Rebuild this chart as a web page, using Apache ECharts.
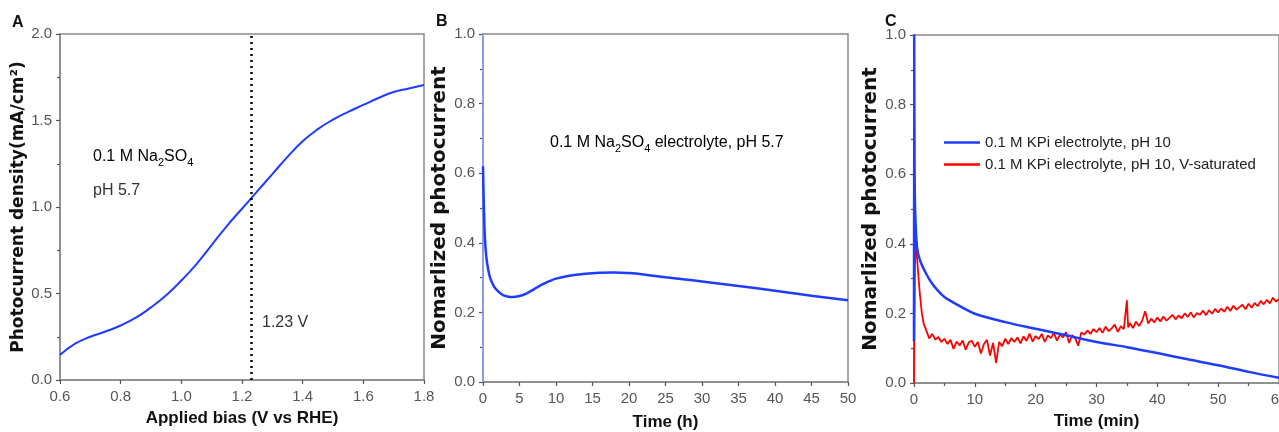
<!DOCTYPE html>
<html><head><meta charset="utf-8">
<script src="https://cdn.jsdelivr.net/npm/echarts@6.0.0/dist/echarts.min.js"></script>
<style>html,body{margin:0;padding:0;background:#fff}#c{width:1279px;height:432px}</style>
</head><body><div id="c"></div>
<script>
// ---- Panel A: photocurrent density vs applied bias ----
const aBias = [0.6,0.65,0.7,0.75,0.8,0.85,0.9,0.95,1.0,1.05,1.1,1.15,1.2,1.25,1.3,1.35,1.4,1.45,1.5,1.55,1.6,1.65,1.7,1.75,1.8];
const aDensity = [0.145,0.21,0.25,0.28,0.315,0.36,0.42,0.49,0.575,0.67,0.78,0.89,0.99,1.09,1.19,1.29,1.38,1.45,1.505,1.55,1.59,1.63,1.665,1.685,1.705];
const aRefBias = 1.23;

// ---- Panel B: normalized photocurrent vs time (h) ----
const bTime = [0,0.1,0.25,0.45,0.7,1.0,1.5,2.0,2.7,3.3,4,5,6,7,8,9,10,12,14,16,18,20,22,25,28,30,35,40,45,50];
const bCurrent = [0.62,0.52,0.42,0.36,0.325,0.298,0.275,0.262,0.25,0.246,0.244,0.247,0.255,0.267,0.279,0.289,0.297,0.306,0.311,0.314,0.315,0.313,0.309,0.301,0.294,0.289,0.276,0.262,0.248,0.235];
const bSpikeTime = [0,0];
const bSpikeVal = [0,1];

// ---- Panel C: normalized photocurrent vs time (min) ----
const cBlueTime = [0,0.03,0.1,0.2,0.5,1,2,3,4,5,7,10,15,20,25,30,35,40,45,50,55,60];
const cBlue = [0.12,1.0,0.6,0.49,0.39,0.352,0.314,0.285,0.264,0.247,0.226,0.199,0.175,0.156,0.137,0.118,0.103,0.086,0.068,0.051,0.032,0.015];
const cRedTime = [0,0.05,0.15,0.3,0.5,0.8,1.0,1.3,1.6,2.0,
 2.5,3,3.5,4,4.5,5,5.5,6,6.5,7,7.5,8,8.5,9,9.5,10,10.5,11,11.5,12,12.5,13,13.5,14,14.5,15,15.5,16,16.5,17,17.5,18,18.5,19,19.5,20,
 20.5,21,21.5,22,22.5,23,23.5,24,24.5,25,25.5,26,26.5,27,27.5,28,28.5,29,29.5,30,30.5,31,31.5,32,32.5,33,33.5,34,34.5,35,35.2,35.5,36,36.5,37,37.5,38,38.5,39,39.5,40,
 40.5,41,41.5,42,42.5,43,43.5,44,44.5,45,45.5,46,46.5,47,47.5,48,48.5,49,49.5,50,50.5,51,51.5,52,52.5,53,53.5,54,54.5,55,55.5,56,56.5,57,57.5,58,58.5,59,59.5,60];
const cRed = [0,0.12,0.33,0.43,0.36,0.29,0.25,0.2,0.17,0.152,
 0.128,0.141,0.125,0.132,0.118,0.127,0.112,0.124,0.098,0.119,0.108,0.122,0.096,0.117,0.121,0.104,0.118,0.085,0.112,0.124,0.079,0.115,0.058,0.118,0.106,0.127,0.112,0.129,0.118,0.131,0.114,0.134,0.121,0.142,0.119,0.135,
 0.126,0.141,0.118,0.137,0.129,0.144,0.122,0.139,0.131,0.146,0.115,0.138,0.128,0.107,0.145,0.139,0.151,0.141,0.155,0.146,0.158,0.144,0.162,0.149,0.157,0.168,0.147,0.163,0.155,0.238,0.16,0.172,0.158,0.176,0.164,0.179,0.206,0.171,0.185,0.174,0.188,
 0.177,0.191,0.179,0.187,0.196,0.183,0.194,0.186,0.2,0.19,0.203,0.188,0.201,0.196,0.208,0.195,0.209,0.199,0.213,0.203,0.214,0.205,0.219,0.207,0.222,0.211,0.218,0.225,0.212,0.228,0.216,0.23,0.221,0.236,0.226,0.239,0.229,0.245,0.234,0.241];
const cNames = ['0.1 M KPi electrolyte, pH 10','0.1 M KPi electrolyte, pH 10, V-saturated'];

// ---- titles ----
const aXTitle = 'Applied bias (V vs RHE)';
const aYTitle = 'Photocurrent density(mA/cm\u00B2)';
const bXTitle = 'Time (h)';
const cXTitle = 'Time (min)';
const nYTitle = 'Nomarlized photocurrent';

const zip = (xs, ys) => xs.map((x, i) => [x, ys[i]]);

const FONT = "'Liberation Sans', Arial, sans-serif";
const GRAY = '#8a8a8a';
const BLUE = '#1f3cff';

function axis(gridIndex, isX, min, max, interval, minor, dec, name, nameGap, nameSize, nameFont) {
  return {
    gridIndex, type: 'value', min, max, interval,
    axisLine: {show: true, onZero: false, lineStyle: {color: GRAY, width: 1.5}},
    axisTick: {show: true, length: 4, lineStyle: {color: '#555', width: 1.2}},
    minorTick: {show: minor, splitNumber: 2, length: 3, lineStyle: {color: '#555', width: 1.2}},
    splitLine: {show: false},
    axisLabel: {fontFamily: FONT, fontSize: 15, color: '#555', margin: isX ? 9 : 8,
      formatter: v => Number(v).toFixed(dec)},
    name, nameLocation: 'middle', nameGap,
    nameTextStyle: {fontFamily: nameFont || FONT, fontWeight: 'bold', fontSize: nameSize, color: '#111'}
  };
}

const rich = {
  n: {fontFamily: FONT, fontSize: 16, color: '#333', lineHeight: 22},
  s: {fontFamily: FONT, fontSize: 11, color: '#333', lineHeight: 11, verticalAlign: 'bottom'}
};

const chart = echarts.init(document.getElementById('c'), null, {renderer: 'canvas'});
chart.setOption({
  animation: false,
  backgroundColor: '#fff',
  grid: [
    {left: 60, top: 34, width: 364, height: 346, show: true, borderColor: GRAY, borderWidth: 1.5, outerBoundsMode: 'none', containLabel: false},
    {left: 483, top: 34, width: 365, height: 348, show: true, borderColor: GRAY, borderWidth: 1.5, outerBoundsMode: 'none', containLabel: false},
    {left: 914, top: 35, width: 365, height: 348, show: true, borderColor: GRAY, borderWidth: 1.5, outerBoundsMode: 'none', containLabel: false}
  ],
  xAxis: [
    axis(0, true, 0.6, 1.8, 0.2, false, 1, aXTitle, 30, 17),
    axis(1, true, 0, 50, 5, false, 0, bXTitle, 32, 17),
    axis(2, true, 0, 60, 10, true, 0, cXTitle, 30, 17)
  ],
  yAxis: [
    axis(0, false, 0, 2, 0.5, true, 1, aYTitle, 28, 17, "'DejaVu Sans', sans-serif"),
    axis(1, false, 0, 1, 0.2, true, 1, nYTitle, 31, 20, "'DejaVu Sans', sans-serif"),
    axis(2, false, 0, 1, 0.2, true, 1, nYTitle, 32, 20, "'DejaVu Sans', sans-serif")
  ],
  legend: {
    data: cNames, orient: 'vertical', left: 939, top: 130, icon: 'rect',
    itemWidth: 36, itemHeight: 2.5, itemGap: 7,
    textStyle: {fontFamily: FONT, fontSize: 15, color: '#222'}
  },
  series: [
    {type: 'line', xAxisIndex: 0, yAxisIndex: 0, data: zip(aBias, aDensity), smooth: true,
     showSymbol: false, lineStyle: {color: BLUE, width: 2}, itemStyle: {color: BLUE},
     markLine: {silent: true, symbol: 'none', label: {show: false},
       lineStyle: {color: '#000', type: [2, 4], width: 2.5},
       data: [{xAxis: aRefBias}]}},
    {type: 'line', xAxisIndex: 1, yAxisIndex: 1, data: zip(bSpikeTime, bSpikeVal),
     showSymbol: false, lineStyle: {color: '#8aa2ff', width: 1.5}, z: 1},
    {type: 'line', xAxisIndex: 1, yAxisIndex: 1, data: zip(bTime, bCurrent), smooth: 0.4,
     showSymbol: false, lineStyle: {color: BLUE, width: 2.5}},
    {name: cNames[1], type: 'line', xAxisIndex: 2, yAxisIndex: 2, data: zip(cRedTime, cRed),
     showSymbol: false, lineStyle: {color: '#ff0000', width: 1.8}, itemStyle: {color: '#ff0000'}},
    {name: cNames[0], type: 'line', xAxisIndex: 2, yAxisIndex: 2, data: zip(cBlueTime, cBlue), smooth: 0.3,
     showSymbol: false, lineStyle: {color: BLUE, width: 2.5}, itemStyle: {color: BLUE}}
  ],
  graphic: [
    {type: 'text', left: 12, top: 15, style: {text: 'A', font: 'bold 16px ' + FONT, fill: '#111'}},
    {type: 'text', left: 436, top: 14, style: {text: 'B', font: 'bold 16px ' + FONT, fill: '#111'}},
    {type: 'text', left: 885, top: 14, style: {text: 'C', font: 'bold 16px ' + FONT, fill: '#111'}},
    {type: 'text', left: 93, top: 149, style: {text: '{n|0.1 M Na}{s|2}{n|SO}{s|4}', rich}},
    {type: 'text', left: 93, top: 183, style: {text: 'pH 5.7', font: '16px ' + FONT, fill: '#333'}},
    {type: 'text', left: 262, top: 315, style: {text: '1.23 V', font: '16px ' + FONT, fill: '#333'}},
    {type: 'text', left: 550, top: 135, style: {text: '{n|0.1 M Na}{s|2}{n|SO}{s|4}{n| electrolyte, pH 5.7}', rich}}
  ]
});
</script>
</body></html>
